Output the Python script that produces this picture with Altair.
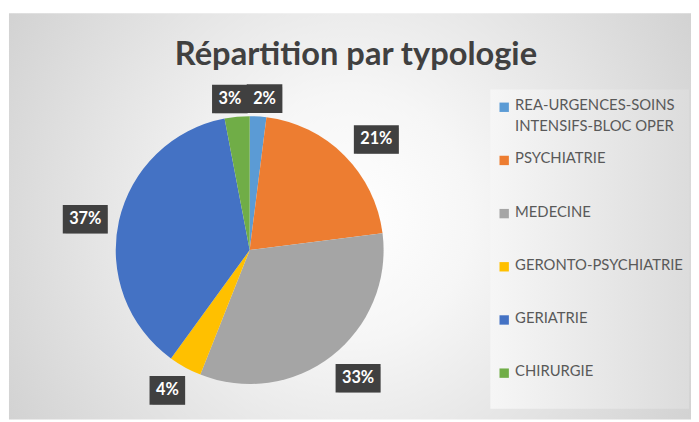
import altair as alt
import pandas as pd

# ---- data ----
categories = [
    "REA-URGENCES-SOINS INTENSIFS-BLOC OPER",
    "PSYCHIATRIE",
    "MEDECINE",
    "GERONTO-PSYCHIATRIE",
    "GERIATRIE",
    "CHIRURGIE",
]
legend_labels = [
    "REA-URGENCES-SOINS\nINTENSIFS-BLOC OPER",
    "PSYCHIATRIE",
    "MEDECINE",
    "GERONTO-PSYCHIATRIE",
    "GERIATRIE",
    "CHIRURGIE",
]
values = [2, 21, 33, 4, 37, 3]
colors = ["#5B9BD5", "#ED7D31", "#A5A5A5", "#FFC000", "#4472C4", "#70AD47"]
title_text = "Répartition par typologie"

df = pd.DataFrame({
    "idx": list(range(len(categories))),
    "cat": categories,
    "leg": legend_labels,
    "value": values,
    "label": [f"{v}%" for v in values],
})

W, H = 691, 414
CX, CY, R = 244.5, 242.5, 135.5
FONT = "Lato"

color_scale = alt.Scale(domain=categories, range=colors)

# background with radial gradient
bg = alt.Chart(pd.DataFrame({"k": [0]})).mark_rect(
    fill={
        "gradient": "radial",
        "x1": 0.5, "y1": 0.5, "r1": 0,
        "x2": 0.5, "y2": 0.5, "r2": 0.72,
        "stops": [
            {"offset": 0, "color": "#FFFFFF"},
            {"offset": 0.25, "color": "#F6F6F6"},
            {"offset": 1, "color": "#C6C6C6"},
        ],
    }
).encode(x=alt.value(1), x2=alt.value(W), y=alt.value(3), y2=alt.value(H))

legend_panel = alt.Chart(pd.DataFrame({"k": [0]})).mark_rect(
    fill={
        "gradient": "linear",
        "x1": 0, "y1": 0.5, "x2": 1, "y2": 0.5,
        "stops": [
            {"offset": 0, "color": "#F6F6F6"},
            {"offset": 1, "color": "#DCDCDC"},
        ],
    }
).encode(x=alt.value(488), x2=alt.value(689), y=alt.value(80), y2=alt.value(403))

title = alt.Chart(pd.DataFrame({"t": [title_text]})).mark_text(
    font=FONT, fontWeight="bold", fontSize=33, color="#404040",
    baseline="alphabetic", align="center",
).encode(x=alt.value(352), y=alt.value(55), text="t:N")

pie = alt.Chart(df).mark_arc(radius=R).encode(
    theta=alt.Theta("value:Q", stack=True),
    color=alt.Color("cat:N", scale=color_scale, legend=None),
    order=alt.Order("idx:Q"),
    x=alt.value(CX),
    y=alt.value(CY),
)

R0 = 142
lab = alt.Chart(df).transform_window(
    cum="sum(value)", sort=[alt.SortField("idx")], frame=[None, 0]
).transform_joinaggregate(
    total="sum(value)"
).transform_calculate(
    a="2*PI*(datum.cum - datum.value/2)/datum.total",
).transform_calculate(
    s="sin(datum.a)", c="cos(datum.a)",
).transform_calculate(
    m="max(abs(datum.s), abs(datum.c))",
    w="9.5*length(datum.label)+17",
    h="29",
).transform_calculate(
    lx=f"{CX} + {R0}*datum.s + (datum.w/2)*datum.s/datum.m + (datum.s >= 0 ? 5 : -5)",
    ly=f"{CY} + 3 - {R0}*datum.c - (datum.h/2)*datum.c/datum.m",
).transform_calculate(
    bx1="datum.lx - datum.w/2", bx2="datum.lx + datum.w/2",
    by1="datum.ly - datum.h/2", by2="datum.ly + datum.h/2",
)

box_enc = dict(
    x=alt.X("bx1:Q", scale=None, axis=None),
    x2="bx2:Q",
    y=alt.Y("by1:Q", scale=None, axis=None),
    y2="by2:Q",
)
shadow = lab.mark_rect(color="#000000", opacity=0.22, xOffset=3, yOffset=3).encode(**box_enc)
boxes = lab.mark_rect(color="#404040").encode(**box_enc)
texts = lab.mark_text(
    font=FONT, fontWeight="bold", fontSize=16.5, color="white",
    align="center", baseline="middle",
).encode(
    x=alt.X("lx:Q", scale=None, axis=None),
    y=alt.Y("ly:Q", scale=None, axis=None),
    text="label:N",
)

leg_y = alt.Y("cat:N", scale=alt.Scale(type="point", domain=categories, range=[98, 367], padding=0), axis=None)
leg_sym = alt.Chart(df).mark_point(shape="square", filled=True, size=90, opacity=1).encode(
    x=alt.value(502),
    y=leg_y,
    color=alt.Color("cat:N", scale=color_scale, legend=None),
)
leg_txt = alt.Chart(df).mark_text(
    font=FONT, fontSize=15, color="#595959", align="left", baseline="top",
    lineBreak="\n", dy=-9, lineHeight=21,
).encode(
    x=alt.value(513),
    y=leg_y,
    text="leg:N",
)

chart = alt.layer(
    bg, legend_panel, title, pie, shadow, boxes, texts, leg_sym, leg_txt
).resolve_scale(
    x="independent", y="independent", color="shared"
).properties(
    width=W, height=H, autosize=alt.AutoSizeParams(type="none"), padding=0,
    background="white",
).configure_view(stroke=None)

chart.save("out.html", embed_options={"renderer": "svg", "actions": False})
